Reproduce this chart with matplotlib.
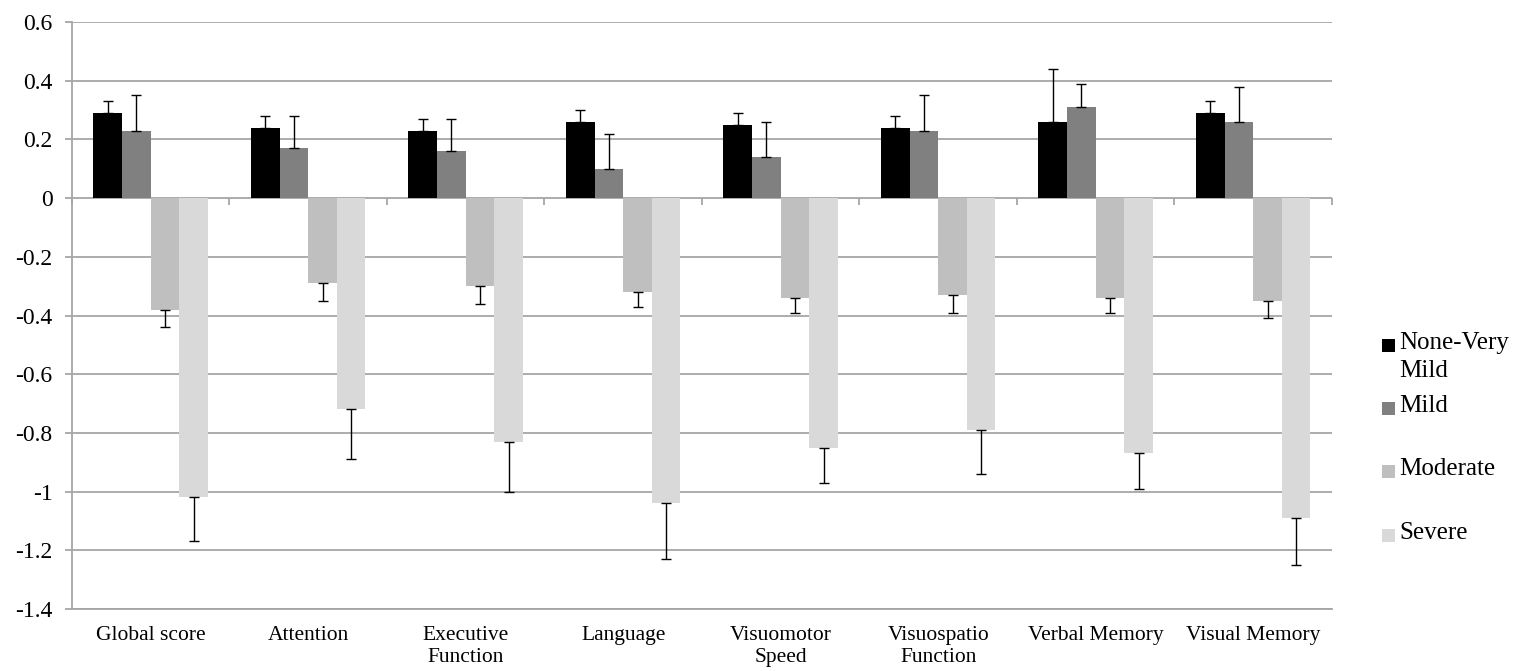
import matplotlib
matplotlib.use('Agg')
import matplotlib.pyplot as plt
from matplotlib.patches import Rectangle
import numpy as np

#-------------------------------------------------------------------------
# Data
#-------------------------------------------------------------------------

categories = ['Global score', 'Attention', 'Executive\nFunction', 'Language',
              'Visuomotor\nSpeed', 'Visuospatio\nFunction', 'Verbal Memory',
              'Visual Memory']

series_names = ['None-Very\nMild', 'Mild', 'Moderate', 'Severe']

none_very_mild = [0.29, 0.24, 0.23, 0.26, 0.25, 0.24, 0.26, 0.29]
mild           = [0.23, 0.17, 0.16, 0.10, 0.14, 0.23, 0.31, 0.26]
moderate       = [-0.38, -0.29, -0.30, -0.32, -0.34, -0.33, -0.34, -0.35]
severe         = [-1.02, -0.72, -0.83, -1.04, -0.85, -0.79, -0.87, -1.09]

# error bar lengths (one sided, away from zero)
err_none_very_mild = [0.04, 0.04, 0.04, 0.04, 0.04, 0.04, 0.18, 0.04]
err_mild           = [0.12, 0.11, 0.11, 0.12, 0.12, 0.12, 0.08, 0.12]
err_moderate       = [0.06, 0.06, 0.06, 0.05, 0.05, 0.06, 0.05, 0.06]
err_severe         = [0.15, 0.17, 0.17, 0.19, 0.12, 0.15, 0.12, 0.16]

colors = ['#000000', '#808080', '#bfbfbf', '#d9d9d9']

#-------------------------------------------------------------------------
# Configure matplotlib
#-------------------------------------------------------------------------

plt.rcParams['font.family'] = ['Liberation Serif', 'DejaVu Serif']
plt.rcParams['font.size']   = 15.5

fig = plt.figure(figsize=(15.37, 6.71), dpi=100)
ax = fig.add_axes([0.0468, 0.0924, 0.8198, 0.8748])

grid_col = '#a6a6a6'
values = [none_very_mild, mild, moderate, severe]
errors = [err_none_very_mild, err_mild, err_moderate, err_severe]

x = np.arange(len(categories))
width = 1.0 / 5.5

for i in range(4):
    v = np.array(values[i])
    e = np.array(errors[i])
    pos = x + (i - 1.5) * width
    ax.bar(pos, v, width, color=colors[i], zorder=3)
    lower = np.where(v < 0, e, 0)
    upper = np.where(v >= 0, e, 0)
    ax.errorbar(pos, v, yerr=[lower, upper], fmt='none', ecolor='black',
                elinewidth=1, capsize=3.5, capthick=1, zorder=4)

ax.set_xlim(-0.5, len(categories) - 0.5)
ax.set_ylim(-1.4, 0.6)
ax.set_yticks(np.arange(-1.4, 0.61, 0.2))
ax.set_yticklabels(['-1.4', '-1.2', '-1', '-0.8', '-0.6', '-0.4', '-0.2',
                    '0', '0.2', '0.4', '0.6'], fontsize=17)
ax.yaxis.grid(True, color=grid_col, linewidth=1.3, zorder=0)
ax.set_axisbelow(True)

ax.set_xticks(x)
ax.set_xticklabels(categories, linespacing=1.25)
ax.tick_params(axis='x', length=0, pad=12)
ax.tick_params(axis='y', length=5, color=grid_col, width=1.3, pad=9)

ax.spines['top'].set_visible(False)
ax.spines['right'].set_visible(False)
ax.spines['left'].set_color(grid_col)
ax.spines['left'].set_linewidth(1.3)
ax.spines['bottom'].set_color(grid_col)
ax.spines['bottom'].set_linewidth(1.3)

# category tick marks on the zero line
sec = ax.secondary_xaxis(0.7)
sec.set_xticks(np.arange(len(categories) + 1) - 0.5)
sec.tick_params(axis='x', direction='out', length=5, color=grid_col,
                width=1.3, labelbottom=False, labeltop=False,
                bottom=True, top=False)
sec.spines['bottom'].set_color(grid_col)
sec.spines['bottom'].set_linewidth(1.3)
sec.spines['top'].set_visible(False)

#-------------------------------------------------------------------------
# Legend (drawn in figure pixels, like the Excel layout)
#-------------------------------------------------------------------------

W, H = 1537.0, 671.0
legend_y = [345, 408, 471, 535]
for name, col, yy in zip(series_names, colors, legend_y):
    fig.add_artist(Rectangle((1382 / W, 1 - (yy + 6.5) / H), 13 / W, 13 / H,
                             facecolor=col, edgecolor='none',
                             transform=fig.transFigure))
    fig.text(1399 / W, 1 - (yy - 13) / H, name, fontsize=18, va='top',
             ha='left', linespacing=1.35)

fig.savefig('out.png', dpi=100)
